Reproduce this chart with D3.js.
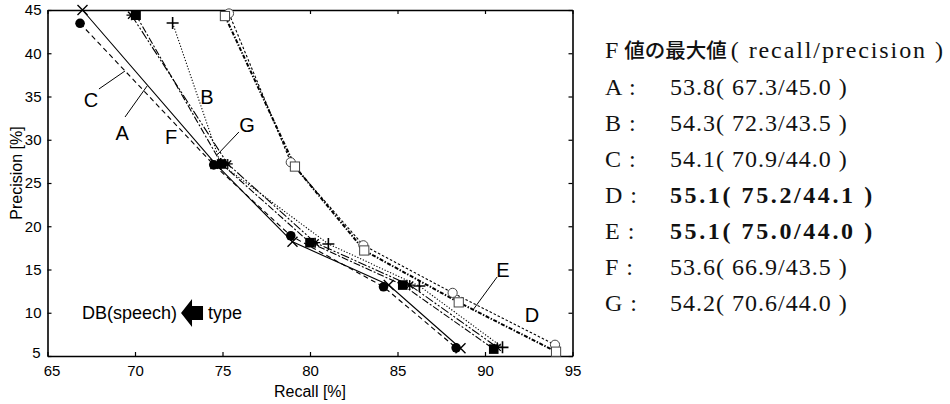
<!DOCTYPE html>
<html><head><meta charset="utf-8">
<script src="https://cdn.jsdelivr.net/npm/d3@7"></script>
<style>body{margin:0;background:#fff}svg{display:block}</style>
</head><body><svg id="c" width="950" height="404"></svg>
<script>
// ---- data (recall %, precision %) ----
const seriesNames = ["A","B","C","D","E","F","G"];
const A = [[67.0,45.0],[74.6,27.2],[79.0,18.2],[84.5,13.2],[88.6,5.9]];
const B = [[72.15,43.5],[74.9,27.2],[81.05,17.95],[86.25,13.1],[91.0,6.0]];
const C = [[66.86,43.46],[74.5,27.1],[78.9,18.9],[84.2,13.0],[88.35,5.95]];
const D = [[75.14,44.3],[79.14,26.9],[83.1,17.2],[88.5,11.2],[94.06,5.5]];
const E = [[75.37,44.6],[78.9,27.4],[83.05,17.8],[88.15,12.3],[94.0,6.3]];
const F = [[70.06,44.4],[74.95,27.2],[80.0,18.1],[85.3,13.2],[90.5,5.8]];
const G = [[69.8,44.4],[75.3,27.2],[80.3,18.1],[85.7,13.2],[90.7,6.0]];
const xTicks = [65,70,75,80,85,90,95];
const yTicks = [5,10,15,20,25,30,35,40,45];
// in-plot labels: text, label pos, optional leader from/to (data coords)
const annotations = [
  {t:"C", p:[67.49,34.6], l:[[67.94,35.87],[69.43,37.95]]},
  {t:"A", p:[69.26,30.78], l:[[69.43,32.63],[70.69,36.21]]},
  {t:"B", p:[74.11,34.94]},
  {t:"F", p:[72.06,30.32]},
  {t:"G", p:[76.4,31.7], l:[[75.94,30.9],[74.74,28.35]]},
  {t:"E", p:[91.03,14.94], l:[[90.69,14.13],[89.31,10.32]]},
  {t:"D", p:[92.69,9.74]}
];
// table of maxima
const tableLabels = ["A","B","C","D","E","F","G"];
const tableF = ["53.8","54.3","54.1","55.1","55.1","53.6","54.2"];
const tableRecall = ["67.3","72.3","70.9","75.2","75.0","66.9","70.6"];
const tablePrecision = ["45.0","43.5","44.0","44.1","44.0","43.5","44.0"];
const tableBold = [false,false,false,true,true,false,false];

// ---- drawing ----
const svg = d3.select("#c");
const x = d3.scaleLinear().domain([65,95]).range([47.5,572.5]);
const y = d3.scaleLinear().domain([5,45]).range([356,10]);
const data = {A,B,C,D,E,F,G};
const style = {
  A:{dash:null, w:1.1, m:"x"},
  B:{dash:"1.2,1.8", w:1.1, m:"plus"},
  C:{dash:"5,3.5", w:1.1, m:"dot"},
  D:{dash:"4,1.6,1.4,1.6", w:2, m:"square"},
  E:{dash:"2.5,2", w:1.1, m:"circle"},
  F:{dash:"7,2,2,2", w:1.1, m:"fsquare"},
  G:{dash:"9,2,2,2,2,2", w:1.1, m:"star"}
};
const sans = "'Liberation Sans', Arial, sans-serif";

// axes
const gx = svg.append("g").attr("transform",`translate(0,${y(5)})`)
  .call(d3.axisBottom(x).tickValues(xTicks).tickSize(-4).tickPadding(9).tickSizeOuter(0));
const gy = svg.append("g").attr("transform",`translate(${x(65)},0)`)
  .call(d3.axisLeft(y).tickValues(yTicks).tickSize(-4).tickPadding(6).tickSizeOuter(0));
const gt = svg.append("g").attr("transform",`translate(0,${y(45)})`)
  .call(d3.axisTop(x).tickValues(xTicks).tickSize(-4).tickFormat("").tickSizeOuter(0));
const gr = svg.append("g").attr("transform",`translate(${x(95)},0)`)
  .call(d3.axisRight(y).tickValues(yTicks).tickSize(-4).tickFormat("").tickSizeOuter(0));
[gx,gy,gt,gr].forEach(g=>{
  g.select(".domain").attr("stroke","#000").attr("stroke-width",1.6);
  g.selectAll(".tick line").attr("stroke","#000").attr("stroke-width",1.2);
  g.selectAll("text").attr("font-family",sans).attr("font-size",15).attr("fill","#000");
});
gx.selectAll(".tick text").filter(d=>d===65).attr("dx",4);
gy.selectAll(".tick text").filter(d=>d===5).attr("dy","0.1em").attr("dx",-1);

svg.append("text").attr("x",x(80)).attr("y",397).attr("text-anchor","middle")
  .attr("font-family",sans).attr("font-size",16).text("Recall [%]");
svg.append("text").attr("transform",`translate(22,${y(25)-10}) rotate(-90)`)
  .attr("text-anchor","middle").attr("font-family",sans).attr("font-size",16).text("Precision [%]");

// lines
const line = d3.line().x(d=>x(d[0])).y(d=>y(d[1]));
seriesNames.forEach(n=>{
  svg.append("path").datum(data[n]).attr("d",line).attr("fill","none")
    .attr("stroke","#000").attr("stroke-width",style[n].w)
    .attr("stroke-dasharray",style[n].dash);
});
// markers
function marker(g, type, cx, cy){
  const s=5;
  if(type==="x"){
    g.append("path").attr("d",`M${cx-s},${cy-s}L${cx+s},${cy+s}M${cx-s},${cy+s}L${cx+s},${cy-s}`).attr("stroke","#000").attr("stroke-width",1.4);
  } else if(type==="plus"){
    g.append("path").attr("d",`M${cx-s-1},${cy}L${cx+s+1},${cy}M${cx},${cy-s-1}L${cx},${cy+s+1}`).attr("stroke","#000").attr("stroke-width",1.6);
  } else if(type==="star"){
    g.append("path").attr("d",`M${cx-s},${cy}L${cx+s},${cy}M${cx},${cy-s}L${cx},${cy+s}M${cx-s*0.7},${cy-s*0.7}L${cx+s*0.7},${cy+s*0.7}M${cx-s*0.7},${cy+s*0.7}L${cx+s*0.7},${cy-s*0.7}`).attr("stroke","#000").attr("stroke-width",1.3);
  } else if(type==="dot"){
    g.append("circle").attr("cx",cx).attr("cy",cy).attr("r",4.8).attr("fill","#000");
  } else if(type==="circle"){
    g.append("circle").attr("cx",cx).attr("cy",cy).attr("r",4.6).attr("fill","#fff").attr("stroke","#444").attr("stroke-width",1);
  } else if(type==="square"){
    g.append("rect").attr("x",cx-4.6).attr("y",cy-4.6).attr("width",9.2).attr("height",9.2).attr("fill","#fff").attr("stroke","#444").attr("stroke-width",1);
  } else if(type==="fsquare"){
    g.append("rect").attr("x",cx-4.8).attr("y",cy-4.8).attr("width",9.6).attr("height",9.6).attr("fill","#000");
  }
}
const mg = svg.append("g");
["E","D","B","G","F","C","A"].forEach(n=>{
  data[n].forEach(d=>marker(mg, style[n].m, x(d[0]), y(d[1])));
});

// annotations
annotations.forEach(a=>{
  svg.append("text").attr("x",x(a.p[0])).attr("y",y(a.p[1])).attr("text-anchor","middle")
    .attr("dy","0.36em").attr("font-family",sans).attr("font-size",20).text(a.t);
  if(a.l){
    svg.append("line").attr("x1",x(a.l[0][0])).attr("y1",y(a.l[0][1]))
      .attr("x2",x(a.l[1][0])).attr("y2",y(a.l[1][1])).attr("stroke","#000").attr("stroke-width",1);
  }
});

// DB(speech) <= type
const dbt = svg.append("text").attr("x",x(66.97)).attr("y",y(9.97)).attr("dy","0.36em")
  .attr("font-family",sans).attr("font-size",18).text("DB(speech)");
const bb = dbt.node().getBBox();
const ax0 = bb.x+bb.width+4, ay = y(9.97);
svg.append("path").attr("d",`M${ax0},${ay}L${ax0+11},${ay-14}L${ax0+11},${ay-7}L${ax0+22},${ay-7}L${ax0+22},${ay+7}L${ax0+11},${ay+7}L${ax0+11},${ay+14}Z`).attr("fill","#000");
svg.append("text").attr("x",ax0+27).attr("y",ay).attr("dy","0.36em")
  .attr("font-family",sans).attr("font-size",18).text("type");

// table on the right
const serif = "'Liberation Serif', 'Times New Roman', serif";
const tx = 605, valX = 670;
const title = svg.append("text").attr("x",tx).attr("y",58).attr("font-family",serif).attr("font-size",24).attr("fill","#111");
title.append("tspan").text("F");
title.append("tspan").attr("dx",6).attr("font-family","'Noto Sans CJK JP', sans-serif").attr("font-size",20.5).attr("font-weight",500).text("値の最大値");
title.append("tspan").attr("dx",4).attr("letter-spacing",1.9).text("( recall/precision )");
tableLabels.forEach((lab,i)=>{
  const yy = 95 + 36*i;
  svg.append("text").attr("x",tx).attr("y",yy).attr("font-family",serif).attr("font-size",24)
    .attr("fill","#111").attr("letter-spacing",1).text(lab+" :");
  svg.append("text").attr("x",valX).attr("y",yy).attr("font-family",serif).attr("font-size",24)
    .attr("fill","#111")
    .attr("font-weight",tableBold[i]?"bold":"normal")
    .attr("letter-spacing",tableBold[i]?2.6:1)
    .text(`${tableF[i]}( ${tableRecall[i]}/${tablePrecision[i]} )`);
});
</script>
</body></html>
